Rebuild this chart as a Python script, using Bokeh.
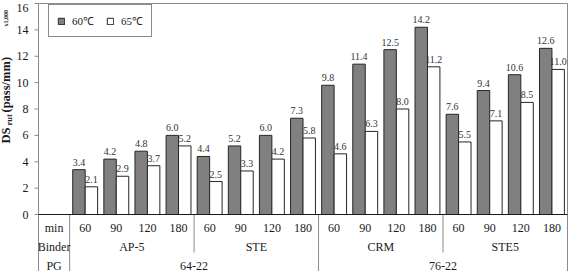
import math

from bokeh.plotting import figure
from bokeh.models import (Range1d, ColumnDataSource, Legend, LegendItem,
                          LabelSet)
from bokeh.embed import file_html
from bokeh.resources import INLINE
from bokeh.core.properties import value

# Rutting resistance DS_rut (x1,000 passes/mm) by binder and mixing time
binders = ["AP-5", "STE", "CRM", "STE5"]
pg_grades = ["64-22", "76-22"]
minutes = ["60", "90", "120", "180"]
ds_60c = [3.4, 4.2, 4.8, 6.0, 4.4, 5.2, 6.0, 7.3,
          9.8, 11.4, 12.5, 14.2, 7.6, 9.4, 10.6, 12.6]
ds_65c = [2.1, 2.9, 3.7, 5.2, 2.5, 3.3, 4.2, 5.8,
          4.6, 6.3, 8.0, 11.2, 5.5, 7.1, 8.5, 11.0]
y_ticks = [0, 2, 4, 6, 8, 10, 12, 14, 16]
row_headers = ["min", "Binder", "PG"]

W, H = 570, 271
X0_PX, X17_PX = 38, 567          # pixel of category-slot 0 and slot 17
Y0_PX, Y16_PX = 214, 3           # pixel of value 0 and value 16

xs = (X17_PX - X0_PX) / 17.0
ys = (Y0_PX - Y16_PX) / 16.0


def px_x(px):
    return (px - X0_PX) / xs


def px_y(py):
    return (Y0_PX - py) / ys


FONT = "Liberation Serif"
TXT = "#1a1a1a"
LINE_GRAY = "#8c8c8c"

# the frame covers the whole canvas; axis, table and titles are drawn as glyphs
p = figure(width=W, height=H, output_backend="svg", toolbar_location=None,
           x_range=Range1d(px_x(0), px_x(W)), y_range=Range1d(px_y(H), px_y(0)),
           x_axis_location=None, y_axis_location=None,
           min_border=0)
p.outline_line_color = None
p.xgrid.visible = False
p.ygrid.visible = False
p.background_fill_color = "white"
p.border_fill_color = "white"

# slot 0 holds the row headers; data slots are 1..16
n = len(ds_60c)
centers = [i + 1.5 for i in range(n)]
src = ColumnDataSource(dict(
    x60=[c - 0.2 for c in centers],
    x65=[c + 0.2 for c in centers],
    v60=ds_60c, v65=ds_65c,
    t60=[f"{v:.1f}" for v in ds_60c],
    t65=[f"{v:.1f}" for v in ds_65c],
))

bar60 = p.vbar(x="x60", top="v60", bottom=0, width=0.4, source=src,
               fill_color="#808080", line_color="#262626", line_width=1)
bar65 = p.vbar(x="x65", top="v65", bottom=0, width=0.4, source=src,
               fill_color="white", line_color="#262626", line_width=1)

for xcol, tcol, ycol in (("x60", "t60", "v60"), ("x65", "t65", "v65")):
    p.add_layout(LabelSet(x=xcol, y=ycol, text=tcol, source=src,
                          text_align="center", text_baseline="alphabetic",
                          y_offset=4, text_font=value(FONT),
                          text_font_size="10px", text_color="#333333"))

# frame, value axis and data-table lines
y_bottom = px_y(H)
n_groups = len(binders)
per = len(minutes)
seg_x0, seg_y0, seg_x1, seg_y1, seg_c = [], [], [], [], []


def seg(a, b, c, d, col):
    seg_x0.append(a); seg_y0.append(b); seg_x1.append(c); seg_y1.append(d)
    seg_c.append(col)


seg(0, 16, 17, 16, LINE_GRAY)
seg(17, y_bottom, 17, 16, LINE_GRAY)
seg(0, y_bottom, 0, 16, LINE_GRAY)
for t in y_ticks:
    seg(px_x(X0_PX - 4), t, 0, t, LINE_GRAY)
seg(1, 0, 1, y_bottom, LINE_GRAY)
binder_row_end = px_y(252)
for g in range(1, n_groups):
    xb = 1 + g * per
    if g == n_groups // 2:
        seg(xb, 0, xb, y_bottom, LINE_GRAY)
    else:
        seg(xb, 0, xb, binder_row_end, LINE_GRAY)
seg(0, 0, 17, 0, "#1a1a1a")
p.segment(x0=seg_x0, y0=seg_y0, x1=seg_x1, y1=seg_y1, line_color=seg_c,
          line_width=1)

# value-axis tick labels (the topmost one nudged down to stay on the canvas)
top_tick = max(y_ticks)
p.text(x=[px_x(X0_PX - 10)] * len(y_ticks), y=y_ticks,
       text=[str(t) for t in y_ticks], text_align="right",
       text_baseline="middle",
       y_offset=[4 if t == top_tick else 0 for t in y_ticks],
       text_font=value(FONT), text_font_size="12px", text_color=TXT)

# data table texts
row_y = [px_y(227), px_y(246), px_y(265)]
tx, ty, tt = [], [], []
for k, h in enumerate(row_headers):
    tx.append(0.5); ty.append(row_y[k]); tt.append(h)
for i, c in enumerate(centers):
    tx.append(c); ty.append(row_y[0]); tt.append(minutes[i % per])
for g, b in enumerate(binders):
    tx.append(1 + g * per + per / 2); ty.append(row_y[1]); tt.append(b)
half = n // len(pg_grades)
for g, pg in enumerate(pg_grades):
    tx.append(1 + g * half + half / 2); ty.append(row_y[2]); tt.append(pg)
p.text(x=tx, y=ty, text=tt, text_align="center", text_baseline="middle",
       text_font=value(FONT), text_font_size="12px", text_color=TXT)

# rotated axis title: DS_rut(pass/mm), plus the x1,000 multiplier
for txt, bx, by, size in (("DS", 5, 143, "12.5px"),
                          ("rut", 8, 125, "8.5px"),
                          ("(pass/mm)", 5, 112, "12.5px"),
                          ("x1,000", 5.5, 26, "6px")):
    p.text(x=[px_x(bx)], y=[px_y(by)], text=[txt], angle=math.pi / 2,
           text_align="left", text_baseline="middle",
           text_font=value(FONT), text_font_size=size,
           text_font_style="bold", text_color=TXT)

legend = Legend(items=[LegendItem(label="60\u2103", renderers=[bar60]),
                       LegendItem(label="65\u2103", renderers=[bar65])],
                orientation="horizontal", location=(48, H - 37),
                glyph_width=8, glyph_height=8, label_height=10,
                label_standoff=7, spacing=12, padding=8, margin=0,
                label_text_font=FONT, label_text_font_size="11px",
                label_text_color=TXT, border_line_color="#1a1a1a",
                border_line_width=1, background_fill_color="white",
                background_fill_alpha=1.0)
p.add_layout(legend)

open("out.html", "w").write(file_html(p, INLINE))
